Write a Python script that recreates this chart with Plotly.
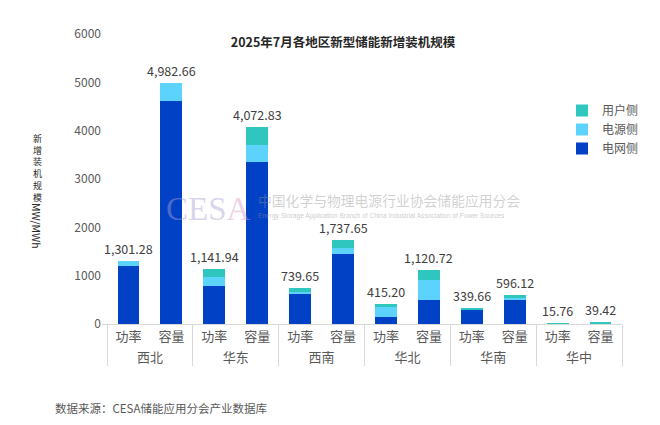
import plotly.graph_objects as go

# 2025年7月各地区新型储能新增装机规模 (MW / MWh)
regions = ["西北", "西北", "华东", "华东", "西南", "西南",
           "华北", "华北", "华南", "华南", "华中", "华中"]
kinds = ["功率", "容量"] * 6

grid_side = [1205, 4620, 795, 3360, 620, 1450, 155, 500, 290, 505, 0, 0]          # 电网侧
source_side = [96.28, 362.66, 172, 345, 45, 125, 205, 410, 20, 30, 0, 0]          # 电源侧
user_side = [0, 0, 174.94, 367.83, 74.65, 162.65, 55.20, 210.72, 29.66, 61.12, 15.76, 39.42]  # 用户侧
totals = [1301.28, 4982.66, 1141.94, 4072.83, 739.65, 1737.65,
          415.20, 1120.72, 339.66, 596.12, 15.76, 39.42]

FONT = "'Noto Sans CJK SC', 'Noto Sans', sans-serif"
COLORS = {
    "电网侧": "#0141C6",
    "电源侧": "#5CD3FC",
    "用户侧": "#2EC6BF",
}

# plot area in pixels (reference)
L, R, T, B = 102, 622, 34, 324
W, H = R - L, B - T


def px(x):
    return (x - L) / W


def py(y):
    return (B - y) / H


fig = go.Figure()
for name, vals in [("电网侧", grid_side), ("电源侧", source_side), ("用户侧", user_side)]:
    fig.add_trace(go.Bar(
        x=[regions, kinds],
        y=vals,
        name=name,
        marker=dict(color=COLORS[name], line_width=0),
    ))

# total labels above each stack
for i, t in enumerate(totals):
    fig.add_annotation(
        x=i, xref="x", y=t,
        text=f"{t:,.2f}", showarrow=False,
        yanchor="bottom", yshift=1,
        font=dict(family=FONT, size=12.5, color="#404040"),
    )

# watermark
fig.add_annotation(
    xref="paper", yref="paper", x=px(208), y=py(209),
    text="<span style='color:rgba(170,160,215,0.45)'>CES</span>"
         "<span style='color:rgba(215,150,200,0.45)'>A</span>",
    showarrow=False, xanchor="center", yanchor="middle",
    font=dict(family="'Liberation Serif', serif", size=33),
)
fig.add_annotation(
    xref="paper", yref="paper", x=px(256), y=py(200),
    text="中国化学与物理电源行业协会储能应用分会", showarrow=False,
    xanchor="left", yanchor="middle",
    font=dict(family=FONT, size=13.8, color="rgba(150,150,150,0.45)"),
)
fig.add_annotation(
    xref="paper", yref="paper", x=px(256), y=py(216),
    text="Energy Storage Application Branch of China Industrial Association of Power Sources",
    showarrow=False, xanchor="left", yanchor="middle",
    font=dict(family="'Liberation Sans', Arial, sans-serif", size=6.6,
              color="rgba(150,150,150,0.5)"),
)

# vertical y-axis title: upright CJK, rotated latin
fig.add_annotation(
    xref="paper", yref="paper", x=px(37), y=py(130),
    text="<br>".join("新增装机规模"), showarrow=False,
    xanchor="center", yanchor="top",
    font=dict(family=FONT, size=9, color="#262626"),
)
fig.add_annotation(
    xref="paper", yref="paper", x=px(37), y=py(226),
    text="MW/MWh", textangle=90, showarrow=False,
    xanchor="center", yanchor="middle",
    font=dict(family=FONT, size=10.5, color="#262626"),
)

# source note
fig.add_annotation(
    xref="paper", yref="paper", x=px(53), y=py(408),
    text="数据来源：CESA储能应用分会产业数据库", showarrow=False,
    xanchor="left", yanchor="middle",
    font=dict(family=FONT, size=11.5, color="#595959"),
)

fig.update_layout(
    title=dict(
        text="<b>2025年7月各地区新型储能新增装机规模</b>",
        x=343 / 660, xanchor="center", y=1 - 43 / 425, yanchor="middle",
        font=dict(family=FONT, size=12.5, color="#262626"),
    ),
    barmode="stack",
    bargap=0.49,
    width=660, height=425,
    margin=dict(l=L, r=660 - R, t=T, b=425 - B),
    paper_bgcolor="white",
    plot_bgcolor="white",
    font=dict(family=FONT, color="#595959", size=12),
    legend=dict(
        traceorder="reversed",
        x=px(562), y=py(96),
        xanchor="left", yanchor="top",
        font=dict(family=FONT, size=12, color="#595959"),
        itemwidth=30, bgcolor="rgba(0,0,0,0)",
        tracegroupgap=0,
    ),
    xaxis=dict(
        type="multicategory",
        showline=True, linecolor="#D9D9D9", linewidth=1,
        showdividers=True, dividercolor="#D9D9D9", dividerwidth=1,
        tickfont=dict(family=FONT, size=13, color="#595959"),
        showgrid=False,
    ),
    yaxis=dict(
        range=[0, 6000], dtick=1000, showgrid=False, zeroline=False,
        showline=False, tickformat="d",
        tickfont=dict(family=FONT, size=12, color="#595959"),
    ),
)

fig.write_html("out.html", config={"displayModeBar": False},
               post_script="document.body.style.margin='0';")
